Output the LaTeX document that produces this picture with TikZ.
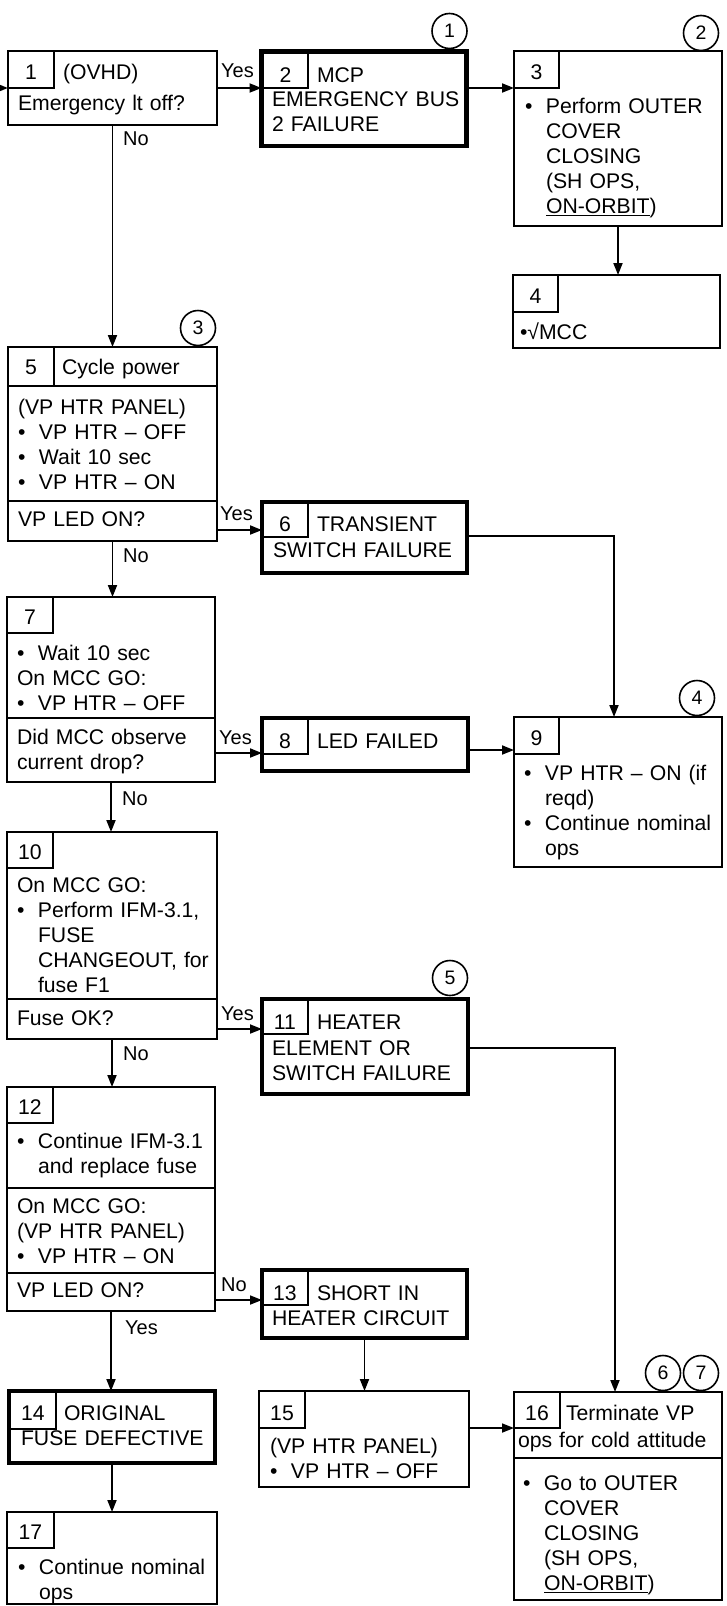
\documentclass[tikz,border=0pt]{standalone}
\usepackage{fontspec}
\setmainfont{Liberation Sans}
\usetikzlibrary{arrows.meta}
\newcommand\myb{\makebox[21pt][l]{\textbullet}}
\newcommand\myi{\hspace*{21pt}}
\newcommand\bx[6][]{\node[box,#1,minimum width={(#4-#2)*1pt},minimum height={(#5-#3)*1pt}] (#6) at ({(#2+#4)/2},{(#3+#5)/2}) {};}
\begin{document}
\begin{tikzpicture}[x=1pt,y=-1pt,
  font=\fontsize{21.2}{25}\selectfont,
  box/.style={draw, rectangle, line width=2.1pt, inner sep=0pt, outer sep=0pt},
  heavy/.style={line width=4.6pt},
  cell/.style={line width=1.4pt},
  sep/.style={line width=1.9pt},
  arr/.style={line width=1.8pt, -{Triangle[length=12pt,width=9pt]}},
  txt/.style={anchor=base west, inner sep=0pt, outer sep=0pt, text width=205pt, align=left},
  num/.style={anchor=base, inner sep=0pt},
  lbl/.style={anchor=base west, inner sep=0pt, font=\fontsize{20}{24}\selectfont},
  circ/.style={draw, circle, line width=1.6pt, minimum size=35pt, inner sep=0pt, font=\fontsize{19.5}{22}\selectfont}
]
\useasboundingbox (0,0) rectangle (727,1606);

% boxes
\bx{8}{51}{217}{125}{b1}
\bx[heavy]{261.5}{51.5}{466.5}{146}{b2}
\bx{514}{51}{722}{226}{b3}
\bx{513}{275}{720}{348}{b4}
\bx{8}{347}{217}{541}{b5}
\bx[heavy]{262}{502}{467}{573}{b6}
\bx{7}{597}{215}{782}{b7}
\bx[heavy]{262}{718}{468}{771}{b8}
\bx{514}{717}{722}{867}{b9}
\bx{7}{832}{217}{1039}{b10}
\bx[heavy]{262}{999}{468}{1094}{b11}
\bx{7}{1087}{215}{1311}{b12}
\bx[heavy]{262}{1270}{467}{1338}{b13}
\bx[heavy]{9}{1391}{215}{1463}{b14}
\bx{259}{1391}{469}{1487}{b15}
\bx{514}{1392}{722}{1600}{b16}
\bx{7}{1512}{217}{1604}{b17}

% number cells
\draw[cell] (b1.north west) rectangle (54,88);
\draw[cell] (b2.north west) rectangle (308,88);
\draw[cell] (b3.north west) rectangle (559,88);
\draw[cell] (b4.north west) rectangle (558,312);
\draw[cell] (b5.north west) rectangle (54,386);
\draw[cell] (b6.north west) rectangle (308,537);
\draw[cell] (b7.north west) rectangle (53,633);
\draw[cell] (b8.north west) rectangle (308,754);
\draw[cell] (b9.north west) rectangle (559,754);
\draw[cell] (b10.north west) rectangle (53,868);
\draw[cell] (b11.north west) rectangle (308,1034);
\draw[cell] (b12.north west) rectangle (53,1123);
\draw[cell] (b13.north west) rectangle (308,1305);
\draw[cell] (b14.north west) rectangle (56,1429);
\draw[cell] (b15.north west) rectangle (305,1428);
\draw[cell] (b16.north west) rectangle (560,1428);
\draw[cell] (b17.north west) rectangle (54,1548);

% separators
\draw[sep] (b5.west |- 0,386) -- (b5.east |- 0,386);
\draw[sep] (b5.west |- 0,501) -- (b5.east |- 0,501);
\draw[sep] (b7.west |- 0,718) -- (b7.east |- 0,718);
\draw[sep] (b10.west |- 0,999) -- (b10.east |- 0,999);
\draw[sep] (b12.west |- 0,1188) -- (b12.east |- 0,1188);
\draw[sep] (b12.west |- 0,1273) -- (b12.east |- 0,1273);
\draw[sep] (b16.west |- 0,1458) -- (b16.east |- 0,1458);

% numbers
\node[num] (n1) at (31,79.5) {1};
\node[num] (n2) at (285.5,82.5) {2};
\node[num] (n3) at (536.5,79.5) {3};
\node[num] (n4) at (535.5,303.5) {4};
\node[num] (n5) at (31,374.5) {5};
\node[num] (n6) at (285,531.5) {6};
\node[num] (n7) at (30,624.5) {7};
\node[num] (n8) at (285,748.5) {8};
\node[num] (n9) at (536.5,745.5) {9};
\node[num] (n10) at (30,859.5) {10};
\node[num] (n11) at (285,1029.5) {11};
\node[num] (n12) at (30,1114.5) {12};
\node[num] (n13) at (285,1300.5) {13};
\node[num] (n14) at (33,1420.5) {14};
\node[num] (n15) at (282,1420.5) {15};
\node[num] (n16) at (537,1420.5) {16};
\node[num] (n17) at (30.5,1539.5) {17};

% texts
\node[txt] (t1a) at (63,79.5) {(OVHD)};
\node[txt] (t1b) at (18,110.5) {Emergency lt off?};
\node[txt] (t2a) at (317,82.5) {MCP};
\node[txt] (t2b) at (272,106.5) {EMERGENCY BUS\\2 FAILURE};
\node[txt] (t3) at (525,113.5) {\myb Perform OUTER\\\myi COVER\\\myi CLOSING\\\myi (SH OPS,\\\myi \underline{ON-ORBIT})};
\node[txt] (t4) at (520,339.5) {\textbullet√MCC};
\node[txt] (t5a) at (62,374.5) {Cycle power};
\node[txt] (t5b) at (18,414.5) {(VP HTR PANEL)\\\myb VP HTR – OFF\\\myb Wait 10 sec\\\myb VP HTR – ON};
\node[txt] (t5c) at (18,526.5) {VP LED ON?};
\node[txt] (t6a) at (317,531.5) {TRANSIENT};
\node[txt] (t6b) at (273,557.5) {SWITCH FAILURE};
\node[txt] (t7a) at (17,660.5) {\myb Wait 10 sec\\On MCC GO:\\\myb VP HTR – OFF};
\node[txt] (t7b) at (17,744.5) {Did MCC observe\\current drop?};
\node[txt] (t8) at (317,748.5) {LED FAILED};
\node[txt] (t9) at (524,780.5) {\myb VP HTR – ON (if\\\myi reqd)\\\myb Continue nominal\\\myi ops};
\node[txt] (t10a) at (17,892.5) {On MCC GO:\\\myb Perform IFM-3.1,\\\myi FUSE\\\myi CHANGEOUT, for\\\myi fuse F1};
\node[txt] (t10b) at (17,1025.5) {Fuse OK?};
\node[txt] (t11a) at (317,1029.5) {HEATER};
\node[txt] (t11b) at (272,1055.5) {ELEMENT OR\\SWITCH FAILURE};
\node[txt] (t12a) at (17,1148.5) {\myb Continue IFM-3.1\\\myi and replace fuse};
\node[txt] (t12b) at (17,1213) {On MCC GO:\\(VP HTR PANEL)\\\myb VP HTR – ON};
\node[txt] (t12c) at (17,1297.5) {VP LED ON?};
\node[txt] (t13a) at (317,1300.5) {SHORT IN};
\node[txt] (t13b) at (272,1325.5) {HEATER CIRCUIT};
\node[txt] (t14a) at (64,1420.5) {ORIGINAL};
\node[txt] (t14b) at (21,1445.5) {FUSE DEFECTIVE};
\node[txt] (t15) at (270,1453.5) {(VP HTR PANEL)\\\myb VP HTR – OFF};
\node[txt] (t16a) at (566,1420.5) {Terminate VP};
\node[txt] (t16b) at (518,1447.5) {ops for cold attitude};
\node[txt] (t16c) at (523,1490.5) {\myb Go to OUTER\\\myi COVER\\\myi CLOSING\\\myi (SH OPS,\\\myi \underline{ON-ORBIT})};
\node[txt] (t17) at (18,1574.5) {\myb Continue nominal\\\myi ops};

% circled references
\node[circ] (c1) at (449.5,31) {1};
\node[circ] (c2) at (701,33) {2};
\node[circ] (c3) at (198,328) {3};
\node[circ] (c4) at (697,698) {4};
\node[circ] (c5) at (450,978) {5};
\node[circ] (c6) at (663,1373) {6};
\node[circ] (c7) at (701,1373) {7};

% connectors
\coordinate (in) at (-20,88);
\draw[arr] (in) -- (in -| b1.west);
\draw[arr] (b1.east |- 0,88) -- (b2.west |- 0,88);
\draw[arr] (b2.east |- 0,88) -- (b3.west |- 0,88);
\draw[arr] (b3.south) -- (b3.south |- b4.north);
\draw[arr] (b1.south) -- (b1.south |- b5.north);
\draw[arr] (b5.east |- 0,530) -- (b6.west |- 0,530);
\draw[arr] (b5.south) -- (b5.south |- b7.north);
\draw[arr] (b6.east |- 0,536) -| (614,0 |- b9.north);
\draw[arr] (b7.east |- 0,753) -- (b8.west |- 0,753);
\draw[arr] (b8.east |- 0,750) -- (b9.west |- 0,750);
\draw[arr] (b7.south) -- (b7.south |- b10.north);
\draw[arr] (b10.east |- 0,1029) -- (b11.west |- 0,1029);
\draw[arr] (b11.east |- 0,1048) -| (615,0 |- b16.north);
\draw[arr] (b10.south) -- (b10.south |- b12.north);
\draw[arr] (b12.east |- 0,1300) -- (b13.west |- 0,1300);
\draw[arr] (b12.south) -- (b12.south |- b14.north);
\draw[arr] (b13.south) -- (b13.south |- b15.north);
\draw[arr] (b14.south) -- (b14.south |- b17.north);
\draw[arr] (b15.east |- 0,1428) -- (b16.west |- 0,1428);

% connector labels
\node[lbl] (l1) at (221,77.5) {Yes};
\node[lbl] (l2) at (123,145.5) {No};
\node[lbl] (l3) at (220,520.5) {Yes};
\node[lbl] (l4) at (123,562.5) {No};
\node[lbl] (l5) at (219,744.5) {Yes};
\node[lbl] (l6) at (122,805.5) {No};
\node[lbl] (l7) at (221,1020.5) {Yes};
\node[lbl] (l8) at (123,1060.5) {No};
\node[lbl] (l9) at (221,1291) {No};
\node[lbl] (l10) at (125,1334.5) {Yes};
\end{tikzpicture}
\end{document}
